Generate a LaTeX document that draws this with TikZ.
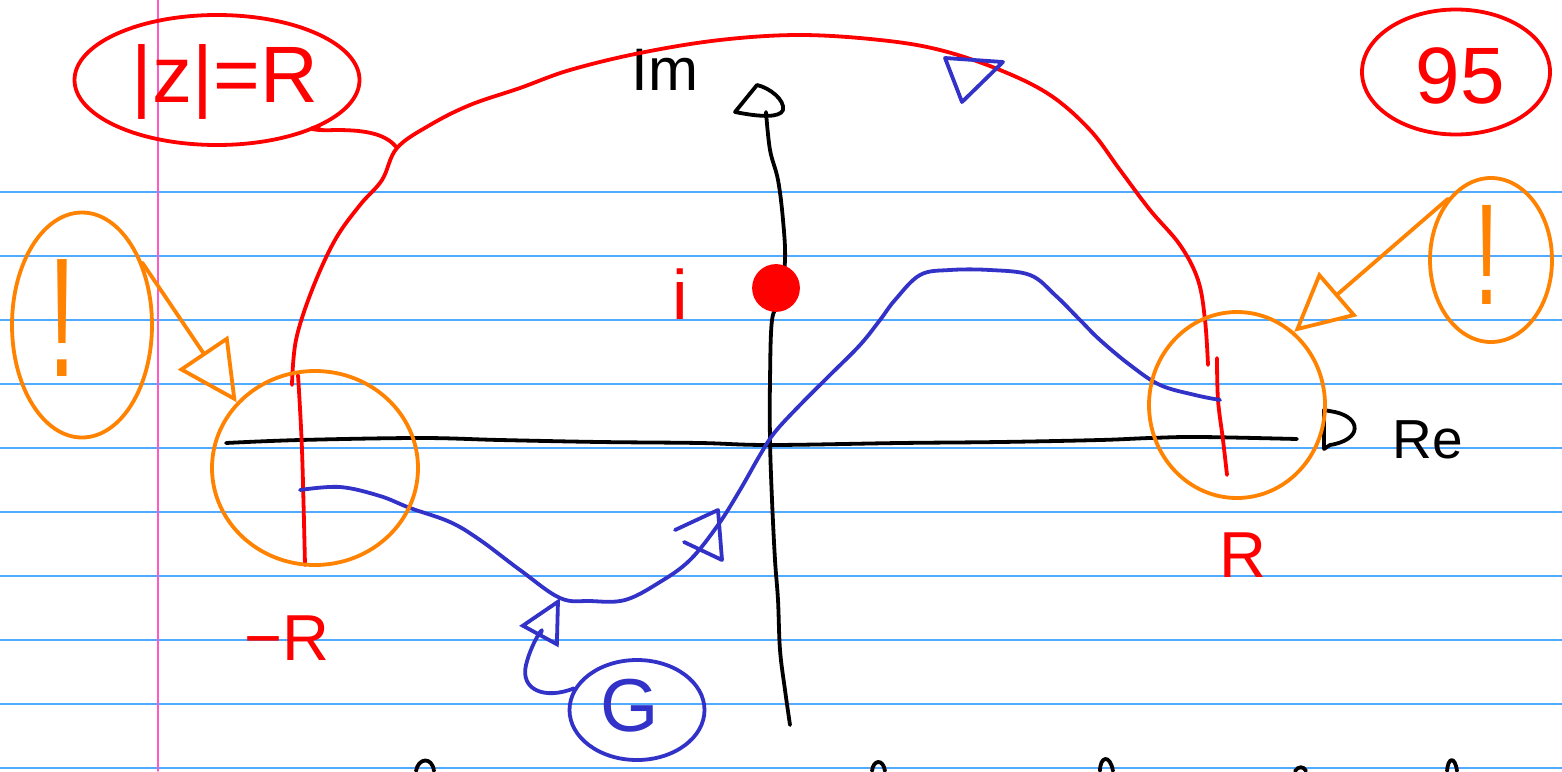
\documentclass[tikz,border=0pt]{standalone}
\usepackage{fontspec}
\setmainfont{Liberation Sans}
\usetikzlibrary{shapes.geometric,arrows.meta}
\definecolor{ruleblue}{RGB}{80,170,255}
\definecolor{marginpink}{RGB}{255,90,200}
\definecolor{penred}{RGB}{255,0,0}
\definecolor{penorange}{RGB}{255,130,0}
\definecolor{penblue}{RGB}{50,50,200}
\begin{document}
\begin{tikzpicture}[x=1pt,y=-1pt,line cap=round,line join=round,
  pen/.style={line width=3.8pt},
  oval/.style={ellipse,draw,pen,inner sep=0pt},
  bigtxt/.style={font=\fontsize{#1}{#1}\selectfont},
  otip/.style={-{Triangle[open,length=#1,width=#1]}}]
\useasboundingbox (0,0) rectangle (1562,771);
\fill[white] (0,0) rectangle (1562,771);
% ruled paper
\foreach \yy in {192,256,...,768} \draw[ruleblue,line width=1.8pt] (0,\yy) -- (1562,\yy);
\draw[marginpink,line width=1.8pt] (158,0) -- (158,771);

% axes
\draw[black,pen] plot[smooth,tension=0.6] coordinates {(226,443) (300,440) (420,438) (500,440) (600,442) (700,443) (770,445) (900,443) (1000,442) (1100,440) (1150,438) (1200,437) (1297,439)};
\draw[black,pen] (1324,410) -- (1335,412) .. controls (1362,418) and (1362,440) .. (1330,445) -- (1324,449) -- cycle;
\draw[black,pen] plot[smooth,tension=0.6] coordinates {(790,725) (785,690) (780,650) (778,600) (775,560) (772,500) (770,440) (770,380) (772,320) (780,300) (785,260) (783,220) (778,180) (770,150) (766,112)};
\draw[black,pen] (735,112) -- (757,85) .. controls (770,88) and (785,100) .. (783,110) .. controls (780,118) and (760,117) .. cycle;
\node[bigtxt=60pt] (im) at (665,70) {Im};
\node[bigtxt=55pt] (re) at (1428,440) {Re};

% red semicircle |z|=R
\draw[penred,pen] plot[smooth,tension=0.6] coordinates {(292,385) (296,340) (312,290) (335,240) (360,205) (382,180) (397,148) (430,125) (470,105) (520,88) (570,70) (640,53) (720,40) (800,35) (880,40) (940,50) (1000,70) (1050,95) (1090,130) (1120,170) (1150,210) (1180,245) (1198,280) (1205,320) (1208,365)};
\draw[penred,pen] plot[smooth,tension=0.6] coordinates {(1217,358) (1218,400) (1223,440) (1227,475)};
\draw[penred,pen] plot[smooth,tension=0.6] coordinates {(298,375) (302,450) (305,565)};
\coordinate (arcpt) at (397,148);
\node[oval,penred,minimum width=285pt,minimum height=130pt] (zr) at (217,80) {};
\node[text=penred,bigtxt=80pt] (zrtxt) at (225,82) {|z|=R};
\draw[penred,pen] (zr.-25) .. controls (303,128) and (315,131) .. (335,130) .. controls (360,130) and (385,132) .. (arcpt);
\node[oval,penred,minimum width=188pt,minimum height=125pt] (nf) at (1456,72) {};
\node[text=penred,bigtxt=80pt] (nftxt) at (1460,76) {95};
\node[text=penred,bigtxt=65pt] (rlab) at (1243,555) {R};
\node[text=penred,bigtxt=65pt] (mrlab) at (287,638) {−R};
\node[text=penred,bigtxt=70pt] (ilab) at (680,294) {i};
\node[circle,fill=penred,draw=penred,pen,minimum size=44pt] (ipt) at (776,288) {};

% blue contour
\draw[penblue,pen] plot[smooth,tension=0.6] coordinates {(300,490) (340,487) (380,496) (410,508) (450,522) (480,540) (520,570) (560,598) (590,601) (625,600) (660,582) (690,560) (718,525) (740,490) (760,455) (775,432) (800,405) (830,375) (860,345) (880,320) (895,300) (920,275) (950,270) (990,270) (1030,275) (1055,295) (1080,320) (1100,340) (1130,365) (1160,385) (1195,395) (1220,400)};
\coordinate (c1) at (560,598);
\draw[penblue,pen] (675,530) -- (718,510) -- (722,560) -- (684,542);
\draw[penblue,pen] (945,58) -- (1003,62) -- (962,102) -- cycle;
\node[oval,penblue,minimum width=135pt,minimum height=100pt] (gov) at (637,710) {};
\node[text=penblue,bigtxt=75pt] (gtxt) at (630,706) {G};
\draw[penblue,pen,otip=44pt] (gov.161) .. controls (545,700) and (520,690) .. (526,665) .. controls (532,640) and (548,620) .. (c1);

% orange warnings
\node[oval,penorange,minimum width=206pt,minimum height=194pt] (mR) at (315,468) {};
\node[oval,penorange,minimum width=176pt,minimum height=186pt] (pR) at (1237,405) {};
\node[oval,penorange,minimum width=140pt,minimum height=225pt] (lo) at (82,325) {};
\node[text=penorange,bigtxt=100pt] (lotxt) at (62,318) {\scalebox{1}[1.7]{!}};
\node[oval,penorange,minimum width=122pt,minimum height=164pt] (ro) at (1491,260) {};
\node[text=penorange,bigtxt=90pt] (rotxt) at (1487,255) {\scalebox{1}[1.6]{!}};
\draw[penorange,pen,otip=60pt] (lo.46) -- (mR.140);
\draw[penorange,pen,otip=58pt] (ro.125) -- (pR.52);

% cut-off handwriting at the bottom edge
\draw[black,pen] (416,771) .. controls (418,758) and (432,756) .. (434,771);
\draw[black,pen] (872,771) .. controls (873,760) and (883,758) .. (885,771);
\draw[black,pen] (1100,771) .. controls (1100,756) and (1110,754) .. (1113,771);
\draw[black,pen] (1295,771) .. controls (1298,766) and (1304,766) .. (1306,771);
\draw[black,pen] (1447,771) .. controls (1448,757) and (1455,756) .. (1457,771);
\end{tikzpicture}
\end{document}
